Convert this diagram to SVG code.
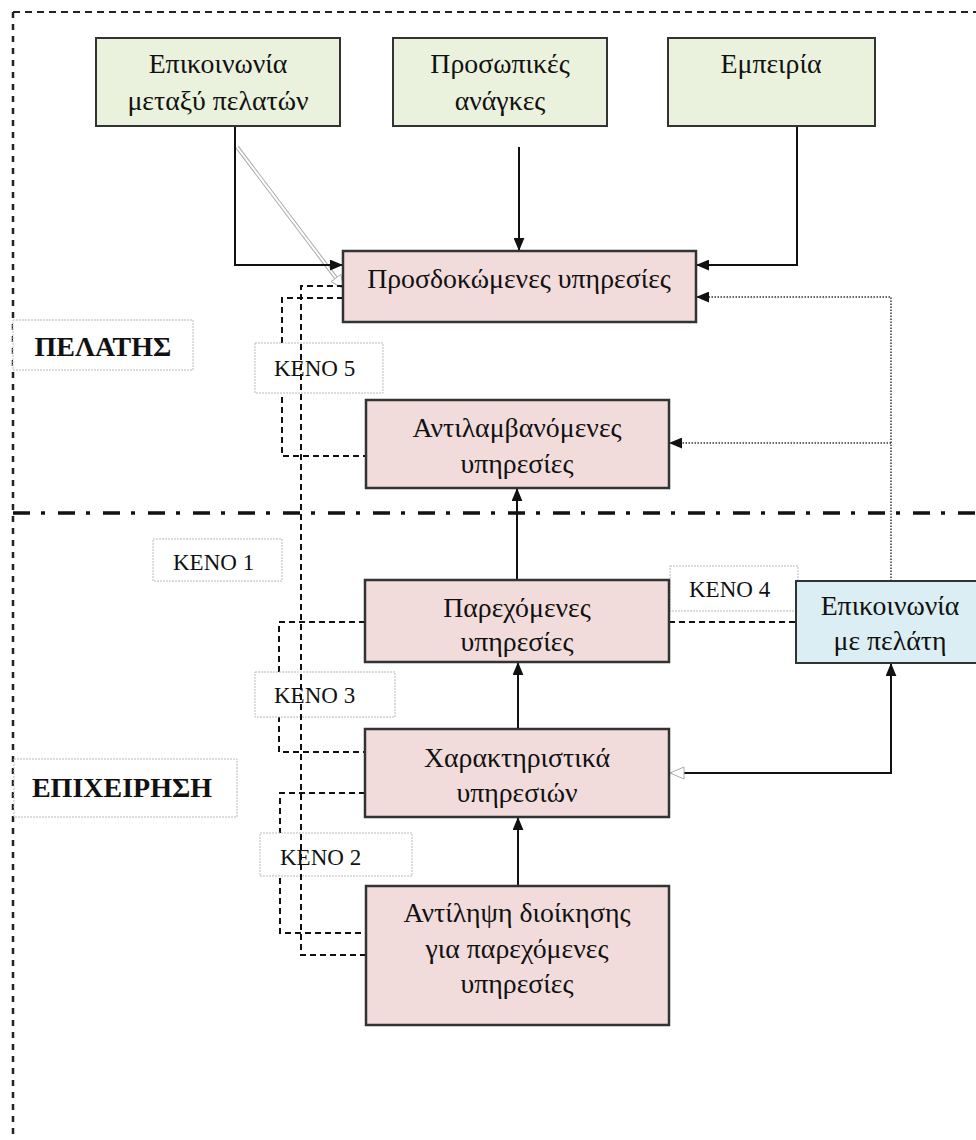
<svg xmlns="http://www.w3.org/2000/svg" width="976" height="1140" viewBox="0 0 976 1140">
<style>
  .t { font-family: "Liberation Serif", "Times New Roman", serif; font-size: 27.8px; fill: #111; text-anchor: middle; }
  .k { font-family: "Liberation Serif", "Times New Roman", serif; font-size: 23px; fill: #111; }
  .b { font-family: "Liberation Serif", "Times New Roman", serif; font-size: 28px; font-weight: bold; fill: #111; text-anchor: middle; }
  .green { fill: #EAF1DD; stroke: #333; stroke-width: 2; }
  .pink { fill: #F2DCDB; stroke: #333; stroke-width: 2.5; }
  .blue { fill: #DBEEF3; stroke: #333; stroke-width: 2; }
  .lab { fill: #fff; stroke: #bbb; stroke-width: 1; stroke-dasharray: 2 1; }
  .solid { fill: none; stroke: #111; stroke-width: 2; }
  .dash { fill: none; stroke: #111; stroke-width: 2; stroke-dasharray: 6 4; }
  .dot { fill: none; stroke: #333; stroke-width: 1.5; stroke-dasharray: 1.5 1.5; }
</style>
<defs>
  <marker id="ah" viewBox="0 0 12 10" refX="12" refY="5" markerWidth="13" markerHeight="11" markerUnits="userSpaceOnUse" orient="auto">
    <path d="M0,0 L12,5 L0,10 z" fill="#111"/>
  </marker>
</defs>
<rect width="976" height="1140" fill="#fff"/>

<!-- frame and separator -->
<g id="frame">
  <path d="M13,12 H976" fill="none" stroke="#222" stroke-width="2" stroke-dasharray="7 5"/>
  <path d="M13,12 V1140" fill="none" stroke="#222" stroke-width="2.5" stroke-dasharray="6 6"/>
  <path d="M13,513 H976" fill="none" stroke="#111" stroke-width="3.5" stroke-dasharray="17 11 4 13"/>
</g>

<g id="connectors">
  <!-- grey double arrow from customer communication -->
  <path d="M237,147 L336,278" fill="none" stroke="#aaa" stroke-width="4"/>
  <path d="M237,147 L336,278" fill="none" stroke="#fff" stroke-width="2"/>
  <polygon points="344,289 340.8,274.4 331.1,281.6" fill="#fff" stroke="#aaa" stroke-width="1"/>
  <path class="solid" d="M235,126 V265 H343" marker-end="url(#ah)"/>
  <path class="solid" d="M519,147 V251" marker-end="url(#ah)"/>
  <path class="solid" d="M797,126 V265 H696" marker-end="url(#ah)"/>
  <path class="dot" d="M891,581 V297 H696" marker-end="url(#ah)"/>
  <path class="dot" d="M891,443 H669" marker-end="url(#ah)"/>
  <path class="solid" d="M517,580 V488" marker-end="url(#ah)"/>
  <path class="solid" d="M518,729 V662" marker-end="url(#ah)"/>
  <path class="solid" d="M518,886 V817" marker-end="url(#ah)"/>
  <path class="solid" d="M671,773 H891 V663" marker-end="url(#ah)"/>
  <polygon points="670,773 684,767 684,779" fill="#fff" stroke="#aaa" stroke-width="1"/>
  <!-- gap connectors -->
  <path class="dash" d="M343,298 H282 V456 H366"/>
  <path class="dash" d="M365,622 H279 V752 H365"/>
  <path class="dash" d="M365,793 H280 V933 H366"/>
  <path class="dash" d="M669,622 H796"/>
</g>

<g id="lab-pelatis"><rect class="lab" x="13" y="320" width="180" height="50"/><text class="b" x="103" y="356">ΠΕΛΑΤΗΣ</text></g>
<g id="lab-epixeirisi"><rect class="lab" x="14" y="759" width="223" height="58"/><text class="b" x="122" y="797">ΕΠΙΧΕΙΡΗΣΗ</text></g>
<g id="lab-keno5"><rect class="lab" x="255" y="343" width="128" height="50"/><text class="k" x="274" y="376">KENO 5</text></g>
<g id="lab-keno1"><rect class="lab" x="153" y="539" width="129" height="42"/><text class="k" x="173" y="570">KENO 1</text></g>
<g id="lab-keno3"><rect class="lab" x="255" y="672" width="140" height="45"/><text class="k" x="274" y="703">KENO 3</text></g>
<g id="lab-keno2"><rect class="lab" x="260" y="833" width="152" height="43"/><text class="k" x="280" y="865">KENO 2</text></g>
<g id="lab-keno4"><rect class="lab" x="670" y="566" width="128" height="45"/><text class="k" x="689" y="597">KENO 4</text></g>

<g id="gap1-connector">
  <path class="dash" d="M343,286 H301 V955 H366"/>
</g>

<g id="n-epikoinonia-pelaton"><rect class="green" x="96" y="38" width="244" height="88"/><text class="t" x="218" y="73">Επικοινωνία</text><text class="t" x="218" y="110">μεταξύ πελατών</text></g>
<g id="n-prosopikes"><rect class="green" x="393" y="38" width="214" height="88"/><text class="t" x="500" y="73">Προσωπικές</text><text class="t" x="500" y="110">ανάγκες</text></g>
<g id="n-empeiria"><rect class="green" x="668" y="38" width="207" height="88"/><text class="t" x="771" y="73">Εμπειρία</text></g>
<g id="n-prosdokomenes"><rect class="pink" x="343" y="251" width="353" height="71"/><text class="t" x="519" y="288">Προσδοκώμενες υπηρεσίες</text></g>
<g id="n-antilamvanomenes"><rect class="pink" x="366" y="400" width="303" height="88"/><text class="t" x="517" y="437">Αντιλαμβανόμενες</text><text class="t" x="517" y="473">υπηρεσίες</text></g>
<g id="n-parexomenes"><rect class="pink" x="365" y="580" width="304" height="82"/><text class="t" x="517" y="617">Παρεχόμενες</text><text class="t" x="517" y="651">υπηρεσίες</text></g>
<g id="n-xaraktiristika"><rect class="pink" x="365" y="729" width="304" height="88"/><text class="t" x="517" y="767">Χαρακτηριστικά</text><text class="t" x="517" y="802">υπηρεσιών</text></g>
<g id="n-antilipsi"><rect class="pink" x="366" y="886" width="303" height="139"/><text class="t" x="517" y="922">Αντίληψη διοίκησης</text><text class="t" x="517" y="958">για παρεχόμενες</text><text class="t" x="517" y="993">υπηρεσίες</text></g>
<g id="n-epikoinonia-pelati"><rect class="blue" x="796" y="581" width="190" height="82"/><text class="t" x="890" y="615">Επικοινωνία</text><text class="t" x="890" y="650">με πελάτη</text></g>
</svg>
